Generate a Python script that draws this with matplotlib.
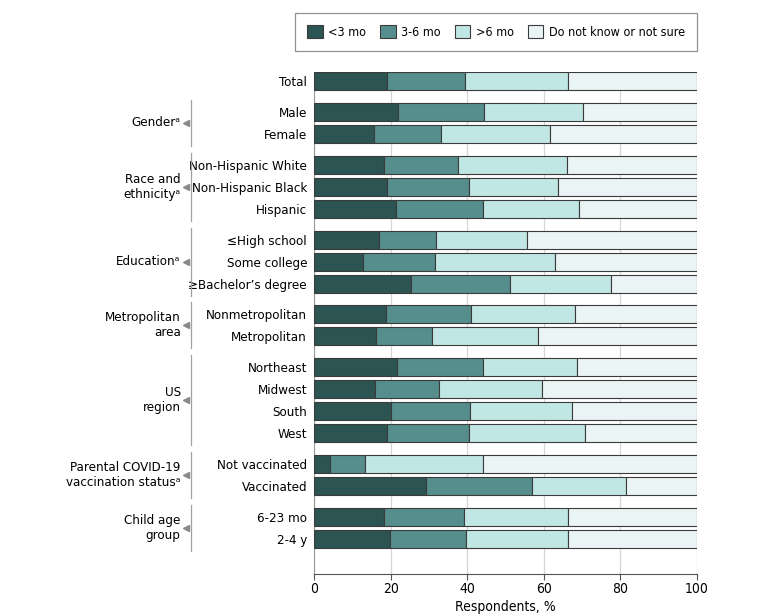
"""Stacked bars: expected timing of child COVID-19 vaccination by subgroup."""

import matplotlib

matplotlib.use("Agg")
import matplotlib.pyplot as plt
from matplotlib.patches import Patch
from matplotlib.transforms import blended_transform_factory

plt.rcParams["font.family"] = ["DejaVu Sans"]
plt.rcParams["font.stretch"] = "condensed"

SERIES = ["<3 mo", "3-6 mo", ">6 mo", "Do not know or not sure"]
COLORS = ["#2b5453", "#558e8c", "#c1e7e5", "#eaf4f4"]

GROUPS = [
    ("", ["Total"]),
    ("Genderᵃ", ["Male", "Female"]),
    ("Race and\nethnicityᵃ", ["Non-Hispanic White", "Non-Hispanic Black", "Hispanic"]),
    ("Educationᵃ", ["≤High school", "Some college", "≥Bachelor’s degree"]),
    ("Metropolitan\narea", ["Nonmetropolitan", "Metropolitan"]),
    ("US\nregion", ["Northeast", "Midwest", "South", "West"]),
    ("Parental COVID-19\nvaccination statusᵃ", ["Not vaccinated", "Vaccinated"]),
    ("Child age\ngroup", ["6-23 mo", "2-4 y"]),
]

# cumulative boundaries (percent)
LT3 = [19.0, 22.0, 15.7, 18.3, 19.1, 21.4, 16.9, 12.8, 25.4, 18.8, 16.2,
       21.7, 16.0, 20.2, 19.1, 4.2, 29.3, 18.3, 19.9]
UPTO6 = [39.5, 44.4, 33.2, 37.6, 40.6, 44.1, 31.8, 31.5, 51.2, 40.9, 30.8,
         44.2, 32.6, 40.7, 40.4, 13.4, 57.0, 39.2, 39.6]
UPTO_GT6 = [66.3, 70.2, 61.7, 66.1, 63.7, 69.1, 55.6, 62.8, 77.5, 68.2, 58.4,
            68.6, 59.5, 67.3, 70.8, 44.1, 81.5, 66.3, 66.3]

seg1 = LT3
seg2 = [b - a for a, b in zip(LT3, UPTO6)]
seg3 = [b - a for a, b in zip(UPTO6, UPTO_GT6)]
seg4 = [100 - b for b in UPTO_GT6]
segments = [seg1, seg2, seg3, seg4]

# row positions with extra gap between groups
GAP = 0.41
labels, ypos, spans = [], [], []
y = 0.0
for gi, (name, rows) in enumerate(GROUPS):
    if gi > 0:
        y += GAP
    start = y
    for r in rows:
        labels.append(r)
        ypos.append(y)
        y += 1
    spans.append((name, start, y - 1))

FS = 9.5

fig = plt.figure(figsize=(7.8, 6.14), dpi=100)
ax = fig.add_axes([314 / 780, 40 / 614, 383 / 780, 502 / 614])

left = [0.0] * len(labels)
for vals, color, name in zip(segments, COLORS, SERIES):
    ax.barh(ypos, vals, left=left, height=0.82, color=color,
            edgecolor="#3b3b3b", linewidth=0.8, label=name, zorder=3)
    left = [l + v for l, v in zip(left, vals)]

ax.set_xlim(0, 100)
ax.set_ylim(ypos[-1] + 1.6, -0.41)
ax.set_xticks([0, 20, 40, 60, 80, 100])
ax.set_yticks(ypos)
ax.set_yticklabels(labels, fontsize=FS)
ax.tick_params(axis="y", length=0, pad=5)
ax.tick_params(axis="x", labelsize=10, length=4, color="#555555", pad=2)
ax.xaxis.grid(True, color="#d6d6d6", linewidth=0.9, zorder=0)
for side in ("top", "right"):
    ax.spines[side].set_visible(False)
ax.spines["left"].set_color("#999999")
ax.spines["bottom"].set_color("#555555")
ax.set_xlabel("Respondents, %", fontsize=10, labelpad=3)

# group labels with bracket and small arrow
tr = blended_transform_factory(ax.transAxes, ax.transData)
for name, y0, y1 in spans:
    if not name:
        continue
    ax.plot([-0.322, -0.322], [y0 - 0.55, y1 + 0.55], transform=tr,
            color="#a0a0a0", linewidth=0.9, clip_on=False)
    mid = (y0 + y1) / 2
    ax.plot([-0.333], [mid], transform=tr, marker="<", markersize=4,
            color="#888888", clip_on=False)
    ax.text(-0.348, mid, name, transform=tr, ha="right", va="center",
            fontsize=FS, linespacing=1.2)

handles = [Patch(facecolor=c, edgecolor="#3b3b3b", linewidth=0.8) for c in COLORS]
leg = fig.legend(handles, SERIES, loc="upper right", ncol=4,
                 bbox_to_anchor=(697 / 780, 1 - 13 / 614), fontsize=9,
                 frameon=True, fancybox=False, edgecolor="#777777",
                 handlelength=1.25, handleheight=1.25, columnspacing=1.1,
                 handletextpad=0.45, borderpad=0.95, borderaxespad=0)
leg.get_frame().set_linewidth(0.9)

fig.savefig("out.png", dpi=100)
